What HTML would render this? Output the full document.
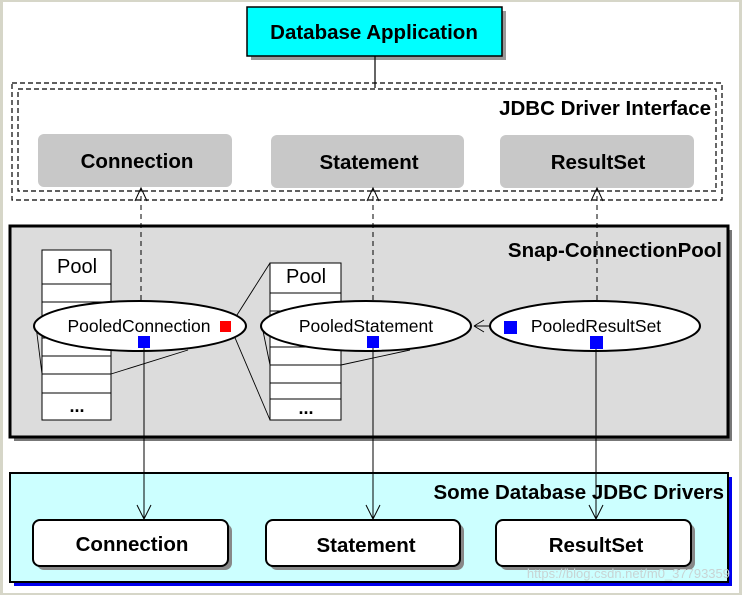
<!DOCTYPE html>
<html><head><style>
html,body{margin:0;padding:0;background:#fff}
svg{display:block}
text{font-family:"Liberation Sans",sans-serif}
.b{font-weight:bold;font-size:20.5px}
.n{font-size:17.5px}
</style></head><body>
<svg width="742" height="595" viewBox="0 0 742 595" xmlns="http://www.w3.org/2000/svg">
<rect x="0" y="0" width="742" height="595" fill="#d6d6c8"/>
<rect x="3" y="2" width="736" height="591" fill="#fff"/>

<!-- Database Application -->
<rect x="251" y="11" width="255" height="49" fill="#999"/>
<rect x="247" y="7" width="255" height="49" fill="#00ffff" stroke="#000" stroke-width="1.5"/>
<text x="374" y="39" class="b" text-anchor="middle">Database Application</text>
<line x1="375" y1="56" x2="375" y2="88" stroke="#000" stroke-width="1.2"/>

<!-- JDBC interface dashed -->
<rect x="12" y="83" width="710" height="117" fill="none" stroke="#000" stroke-dasharray="5,3" stroke-width="1.2"/>
<rect x="18" y="89" width="698" height="102" fill="none" stroke="#000" stroke-dasharray="5,3" stroke-width="1.2"/>
<text x="711" y="115" class="b" text-anchor="end">JDBC Driver Interface</text>
<rect x="38" y="134" width="194" height="53" rx="6" fill="#c8c8c8"/>
<rect x="271" y="135" width="193" height="53" rx="6" fill="#c8c8c8"/>
<rect x="500" y="135" width="194" height="53" rx="6" fill="#c8c8c8"/>
<text x="137" y="168" class="b" text-anchor="middle">Connection</text>
<text x="369" y="169" class="b" text-anchor="middle">Statement</text>
<text x="598" y="169" class="b" text-anchor="middle">ResultSet</text>

<!-- Snap pool -->
<rect x="14" y="230" width="718" height="211" fill="#777"/>
<rect x="10" y="226" width="718" height="211" fill="#dcdcdc" stroke="#000" stroke-width="3"/>
<text x="722" y="257" class="b" text-anchor="end">Snap-ConnectionPool</text>

<!-- dashed up arrows -->
<g stroke="#000" stroke-width="1" fill="none">
<line x1="141" y1="300" x2="141" y2="188" stroke-dasharray="5,4"/>
<path d="M135,201 L141,188 L147,201"/>
<line x1="373" y1="300" x2="373" y2="188" stroke-dasharray="5,4"/>
<path d="M367,201 L373,188 L379,201"/>
<line x1="597" y1="300" x2="597" y2="188" stroke-dasharray="5,4"/>
<path d="M591,201 L597,188 L603,201"/>
</g>

<!-- Pool 1 -->
<g stroke="#000" stroke-width="1" fill="#fff">
<rect x="42" y="250" width="69" height="170"/>
<line x1="42" y1="284" x2="111" y2="284"/>
<line x1="42" y1="302" x2="111" y2="302"/>
<line x1="42" y1="320" x2="111" y2="320"/>
<line x1="42" y1="338" x2="111" y2="338"/>
<line x1="42" y1="356" x2="111" y2="356"/>
<line x1="42" y1="374" x2="111" y2="374"/>
<line x1="42" y1="393" x2="111" y2="393"/>
<rect x="270" y="263" width="71" height="157"/>
<line x1="270" y1="293" x2="341" y2="293"/>
<line x1="270" y1="311" x2="341" y2="311"/>
<line x1="270" y1="329" x2="341" y2="329"/>
<line x1="270" y1="347" x2="341" y2="347"/>
<line x1="270" y1="365" x2="341" y2="365"/>
<line x1="270" y1="383" x2="341" y2="383"/>
<line x1="270" y1="399" x2="341" y2="399"/>
</g>
<text x="77" y="273" text-anchor="middle" font-size="20">Pool</text>
<text x="77" y="412" text-anchor="middle" font-size="18" font-weight="bold">...</text>
<text x="306" y="283" text-anchor="middle" font-size="20">Pool</text>
<text x="306" y="414" text-anchor="middle" font-size="18" font-weight="bold">...</text>

<!-- connecting thin lines -->
<g stroke="#000" stroke-width="0.9" fill="none">
<path d="M36,326 L42,374"/><path d="M111,374 L188,350"/>
<path d="M230,326 L270,263"/><path d="M230,326 L270,420"/>
<path d="M262,326 L270,365"/><path d="M341,365 L410,350"/>
<path d="M474,326 L510,326"/>
<path d="M474,326 L484,320 M474,326 L484,332"/>
</g>

<!-- Ellipses -->
<ellipse cx="140" cy="326" rx="106" ry="25" fill="#fff" stroke="#000" stroke-width="2"/>
<ellipse cx="366" cy="326" rx="105" ry="25" fill="#fff" stroke="#000" stroke-width="2"/>
<ellipse cx="595" cy="326" rx="105" ry="25" fill="#fff" stroke="#000" stroke-width="2"/>
<text x="139" y="332" class="n" text-anchor="middle">PooledConnection</text>
<text x="366" y="332" class="n" text-anchor="middle">PooledStatement</text>
<text x="596" y="332" class="n" text-anchor="middle">PooledResultSet</text>
<rect x="220" y="321" width="11" height="11" fill="#f00"/>
<rect x="138" y="336" width="12" height="12" fill="#00f"/>
<rect x="367" y="336" width="12" height="12" fill="#00f"/>
<rect x="590" y="336" width="13" height="13" fill="#00f"/>
<rect x="504" y="321" width="13" height="13" fill="#00f"/>

<!-- Drivers -->
<rect x="14" y="477" width="718" height="109" fill="#0000ee"/>
<rect x="10" y="473" width="718" height="109" fill="#ccffff" stroke="#000" stroke-width="2"/>
<text x="724" y="499" class="b" text-anchor="end">Some Database JDBC Drivers</text>
<g fill="#888"><rect x="37" y="524" width="195" height="46" rx="7"/><rect x="270" y="524" width="194" height="46" rx="7"/><rect x="500" y="524" width="195" height="46" rx="7"/></g>
<g fill="#fff" stroke="#000" stroke-width="2"><rect x="33" y="520" width="195" height="46" rx="7"/><rect x="266" y="520" width="194" height="46" rx="7"/><rect x="496" y="520" width="195" height="46" rx="7"/></g>
<text x="132" y="551" class="b" text-anchor="middle">Connection</text>
<text x="366" y="552" class="b" text-anchor="middle">Statement</text>
<text x="596" y="552" class="b" text-anchor="middle">ResultSet</text>

<!-- solid down arrows -->
<g stroke="#000" stroke-width="1" fill="none">
<line x1="144" y1="348" x2="144" y2="519"/><path d="M137,505 L144,519 L151,505"/>
<line x1="373" y1="348" x2="373" y2="519"/><path d="M366,505 L373,519 L380,505"/>
<line x1="596" y1="349" x2="596" y2="519"/><path d="M589,505 L596,519 L603,505"/>
</g>
<text x="730" y="578" font-size="13" fill="#c8d4d4" text-anchor="end">https://blog.csdn.net/m0_37793359</text>
</svg>
</body></html>
